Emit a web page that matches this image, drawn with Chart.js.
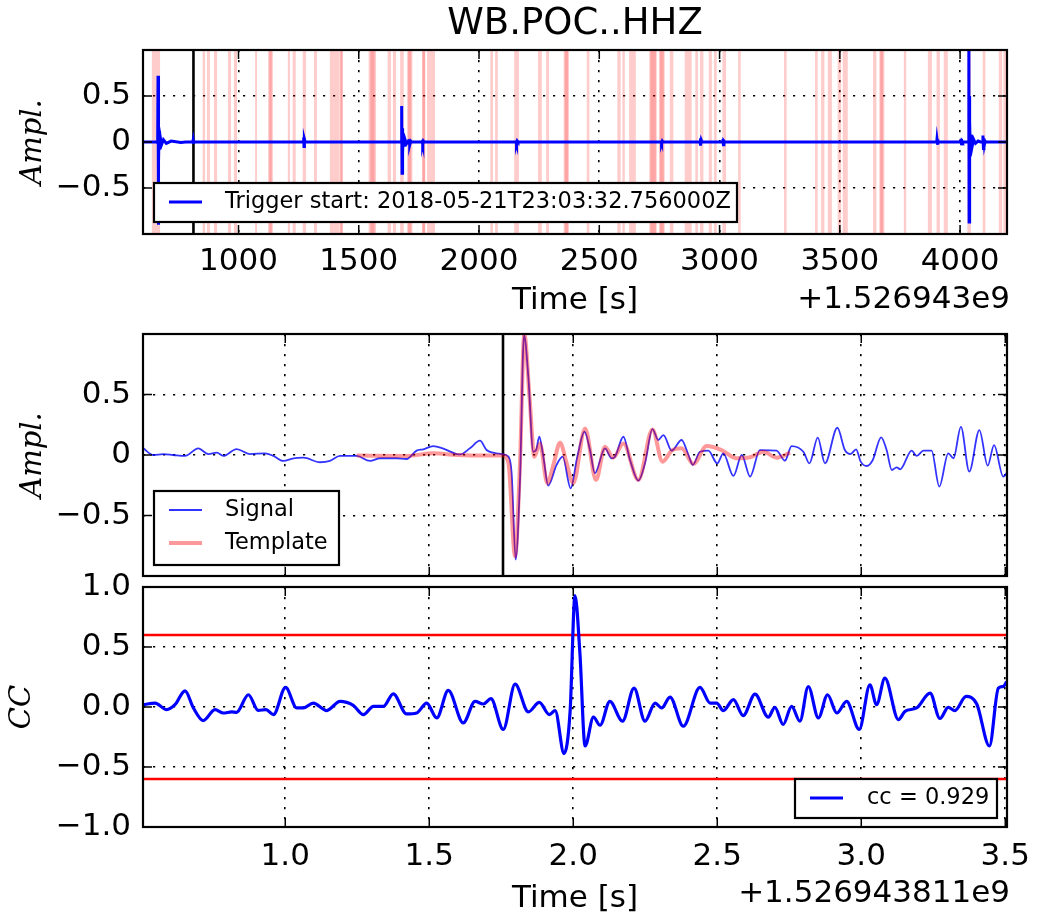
<!DOCTYPE html>
<html>
<head>
<meta charset="utf-8">
<title>WB.POC..HHZ</title>
<script src="https://cdn.jsdelivr.net/npm/chart.js@4.4.0/dist/chart.umd.min.js"></script>
<style>
  body { margin: 0; background: #fff; }
  .panel { position: absolute; left: 0; width: 1040px; }
</style>
</head>
<body>
<div class="panel" style="top:0;height:320px"><canvas id="traceChart"></canvas></div>
<div class="panel" style="top:320px;height:260px"><canvas id="matchChart"></canvas></div>
<div class="panel" style="top:560px;height:360px"><canvas id="ccChart"></canvas></div>
<script>
// ---- full record, seconds after 1.526943e9 ----
const traceRange = [603, 4195];
const traceTicks = [1000, 1500, 2000, 2500, 3000, 3500, 4000];
const triggerStart = 812.756;
const tracePoints = [
  [603, 0], [660, 0], [664, -0.01], [665.5, 0.72], [666.5, -0.9], [667.5, 0.3],
  [668.5, -0.22], [670, 0.12], [672, -0.08], [675, 0.05], [680, -0.03], [688, 0.025], [700, -0.015],
  [720, 0.01], [760, -0.005], [780, 0],
  [810, 0], [811.5, 0.02], [812.5, -0.02], [814, 0],
  [1269, 0], [1271, 0.05], [1272.5, -0.05], [1274, 0.03], [1277, 0],
  [1676, 0], [1678.5, 0.39], [1680, -0.34], [1681.5, 0.15], [1683, -0.12], [1685, 0.07],
  [1688, -0.05], [1692, 0.03], [1698, -0.02], [1706, 0.01], [1710, 0], [1711, 0.03], [1713, -0.03], [1716, 0.01], [1720, 0],
  [1764, 0], [1765, 0.025], [1767, -0.025], [1769, 0.01], [1772, 0],
  [2154, 0], [2155, 0.02], [2157, -0.02], [2159, 0.01], [2162, 0],
  [2757, 0], [2758, 0.015], [2760, -0.015], [2762, 0.01], [2765, 0],
  [2919, 0], [2920, 0.04], [2922, -0.04], [2924, 0.02], [2927, 0],
  [3013, 0], [3014, 0.03], [3016, -0.03], [3018, 0.01], [3021, 0],
  [3903, 0], [3904, 0.03], [3906, -0.03], [3908, 0.01], [3911, 0],
  [4003, 0], [4004, 0.035], [4006, -0.035], [4008, 0.01], [4011, 0],
  [4035, 0], [4036.5, 1.1], [4037.5, -0.87], [4038.5, 0.5], [4039.5, -0.4], [4041, 0.22],
  [4043, -0.15], [4046, 0.08], [4050, -0.05], [4056, 0.03], [4064, -0.015], [4075, 0.01], [4085, 0],
  [4093, 0], [4095, 0.07], [4097, -0.07], [4099, 0.04], [4101, -0.03], [4104, 0.01], [4108, 0], [4195, 0]
];
// trigger on / off windows
const triggerWindows = [
  [640, 674], [851, 861], [869, 881], [898, 911], [956, 969], [981, 994], [1069, 1077],
  [1123, 1143], [1128, 1138], [1205, 1214], [1225, 1238], [1267, 1281], [1314, 1326],
  [1380, 1421], [1422, 1434], [1424, 1432], [1541, 1572], [1548, 1566], [1620, 1634],
  [1642, 1655], [1672, 1687], [1701, 1723], [1705, 1718], [1763, 1777], [1765, 1775],
  [1784, 1817], [2047, 2058], [2067, 2078], [2146, 2166], [2245, 2261], [2279, 2291],
  [2352, 2374], [2356, 2370], [2448, 2459], [2575, 2589], [2596, 2606], [2624, 2652],
  [2708, 2739], [2712, 2735], [2748, 2772], [2752, 2768], [2793, 2808], [2855, 2884],
  [2899, 2910], [2919, 2933], [2955, 2968], [2977, 2988], [3012, 3027], [3077, 3088],
  [3268, 3279], [3397, 3408], [3422, 3436], [3450, 3467], [3491, 3505], [3512, 3533],
  [3638, 3652], [3664, 3685], [3668, 3680], [3766, 3776], [3866, 3883], [3902, 3916],
  [3932, 3949], [4030, 4045], [4094, 4105], [4161, 4175], [4180, 4191]
];

// ---- detection window, seconds after 1.526943811e9 ----
const windowRange = [0.506, 3.506];
const windowTicks = [1.0, 1.5, 2.0, 2.5, 3.0, 3.5];
const pickTime = 1.756;
const signalPoints = [
  [0.507, 0.055], [0.542, 0.0], [0.577, 0.008], [0.611, 0.0], [0.652, -0.008], [0.698, 0.055],
  [0.733, 0.008], [0.762, 0.019], [0.785, -0.008], [0.831, 0.049], [0.877, 0.008], [0.930, 0.014],
  [0.959, -0.008], [0.993, -0.049], [1.028, -0.027], [1.063, -0.022], [1.121, -0.060], [1.155, -0.049],
  [1.190, -0.008], [1.248, -0.008], [1.294, -0.049], [1.329, -0.027], [1.387, -0.027], [1.421, -0.033],
  [1.456, 0.036], [1.479, 0.047], [1.514, 0.074], [1.549, 0.052], [1.595, 0.008], [1.607, 0.005],
  [1.641, 0.055], [1.676, 0.118], [1.699, 0.041], [1.722, 0.019], [1.751, 0.008], [1.775, -0.014],
  [1.786, -0.151], [1.800, -0.865], [1.815, -0.206], [1.829, 0.99], [1.844, 0.645], [1.861, 0.027],
  [1.871, 0.041], [1.882, 0.151], [1.896, -0.014], [1.913, -0.253], [1.942, -0.082], [1.963, -0.014],
  [1.991, -0.275], [2.014, -0.014], [2.039, 0.192], [2.058, 0.041], [2.075, -0.151], [2.110, 0.055],
  [2.133, -0.027], [2.145, -0.014], [2.174, 0.151], [2.197, -0.041], [2.226, -0.211], [2.249, -0.069],
  [2.275, 0.214], [2.295, 0.124], [2.313, 0.165], [2.342, 0.036], [2.376, 0.124], [2.400, 0.0],
  [2.415, -0.082], [2.440, 0.027], [2.469, 0.036], [2.500, -0.069], [2.521, 0.014], [2.556, -0.173],
  [2.585, 0.0], [2.614, -0.178], [2.648, 0.041], [2.706, 0.036], [2.735, -0.047], [2.758, 0.074],
  [2.799, 0.027], [2.820, -0.069], [2.849, 0.143], [2.874, -0.069], [2.917, 0.225], [2.943, 0.041],
  [2.963, 0.008], [2.982, 0.047], [2.998, -0.055], [3.019, -0.091], [3.040, -0.041], [3.069, 0.146],
  [3.088, 0.041], [3.106, -0.124], [3.123, -0.102], [3.135, -0.118], [3.175, 0.036], [3.192, -0.008],
  [3.216, 0.036], [3.244, 0.036], [3.271, -0.261], [3.302, 0.014], [3.320, -0.027], [3.346, 0.233],
  [3.375, -0.137], [3.410, 0.206], [3.439, -0.088], [3.461, 0.082], [3.493, -0.178], [3.517, -0.096]
];
const templatePoints = [
  [1.248, -0.005], [1.421, -0.008], [1.514, 0.014], [1.595, 0.0], [1.711, -0.005], [1.757, -0.005],
  [1.775, -0.069], [1.798, -0.837], [1.815, -0.069], [1.830, 1.0], [1.848, 0.48], [1.865, -0.014],
  [1.884, 0.096], [1.910, -0.233], [1.931, -0.082], [1.954, 0.102], [1.977, -0.069], [2.000, -0.233],
  [2.041, 0.220], [2.079, -0.206], [2.110, 0.069], [2.139, -0.022], [2.174, 0.096], [2.226, -0.206],
  [2.275, 0.211], [2.310, -0.055], [2.342, 0.036], [2.376, 0.055], [2.417, -0.074], [2.463, 0.074],
  [2.515, 0.041], [2.567, -0.027], [2.614, -0.019], [2.660, 0.027], [2.706, -0.022], [2.753, 0.019]
];
const ccPoints = [
  [0.507, 0.019], [0.548, 0.033], [0.588, -0.022], [0.617, 0.019], [0.652, 0.135], [0.681, -0.008],
  [0.715, -0.113], [0.756, -0.022], [0.785, -0.050], [0.814, -0.041], [0.831, -0.044], [0.872, 0.102],
  [0.906, -0.028], [0.933, -0.022], [0.959, -0.063], [1.001, 0.163], [1.040, -0.008], [1.063, -0.008],
  [1.097, 0.033], [1.144, -0.030], [1.190, 0.047], [1.236, 0.014], [1.271, -0.063], [1.306, 0.006],
  [1.341, 0.006], [1.375, 0.110], [1.421, -0.058], [1.456, -0.050], [1.491, 0.033], [1.526, -0.091],
  [1.566, 0.138], [1.618, -0.132], [1.659, 0.047], [1.688, 0.025], [1.714, 0.069], [1.757, -0.187],
  [1.798, 0.190], [1.844, -0.041], [1.882, 0.039], [1.917, -0.063], [1.937, -0.030], [1.968, -0.388],
  [1.989, -0.036], [2.006, 0.929], [2.023, 0.45], [2.041, -0.325], [2.070, -0.085], [2.093, -0.152],
  [2.127, 0.047], [2.171, -0.118], [2.211, 0.157], [2.249, -0.118], [2.284, 0.033], [2.307, -0.008],
  [2.336, 0.083], [2.382, -0.160], [2.440, 0.163], [2.475, 0.033], [2.498, 0.033], [2.521, -0.030],
  [2.556, 0.061], [2.590, -0.072], [2.631, 0.107], [2.677, -0.085], [2.700, -0.003], [2.729, -0.146],
  [2.758, 0.006], [2.787, -0.118], [2.816, 0.171], [2.851, -0.091], [2.883, 0.102], [2.915, -0.050],
  [2.949, 0.047], [2.993, -0.187], [3.030, 0.185], [3.053, 0.019], [3.082, 0.240], [3.129, -0.105],
  [3.152, -0.036], [3.192, -0.008], [3.239, 0.116], [3.273, -0.096], [3.302, -0.003], [3.325, -0.030],
  [3.364, 0.088], [3.401, 0.025], [3.445, -0.325], [3.476, 0.157], [3.493, 0.171], [3.505, 0.212]
];
const ccThreshold = 0.6;
const amplTicks = [-0.5, 0, 0.5];
const ccTicks = [-1.0, -0.5, 0.0, 0.5, 1.0];

const TICK_FONT = { family: 'DejaVu Sans', size: 31 };
const LABEL_FONT = { family: 'DejaVu Sans', size: 31 };
const MATH_FONT = { family: 'DejaVu Serif', size: 29, style: 'italic' };
const LEGEND_FONT = '22.5px "DejaVu Sans"';

Chart.defaults.font.family = 'DejaVu Sans';
Chart.defaults.color = '#000';
Chart.defaults.animation = false;

const xy = pts => pts.map(p => ({ x: p[0], y: p[1] }));
const minus = v => String(v).replace('-', '\u2212');
const noPadding = s => { s.paddingLeft = s.paddingRight = s.paddingTop = s.paddingBottom = 0; };

// spans, inner ticks, frame, legend box and axis offset text
const axesDecor = {
  id: 'axesDecor',
  beforeDatasetsDraw(chart, args, opts) {
    if (!opts.spans) return;
    const { ctx, chartArea: a, scales: { x } } = chart;
    ctx.save();
    ctx.fillStyle = 'rgba(255,0,0,0.2)';
    opts.spans.forEach(([on, off]) => {
      const x1 = x.getPixelForValue(on), x2 = x.getPixelForValue(off);
      ctx.fillRect(x1, a.top, Math.max(x2 - x1, 1.5), a.bottom - a.top);
    });
    ctx.restore();
  },
  afterDatasetsDraw(chart, args, opts) {
    const { ctx, chartArea: a, scales: { x, y } } = chart;
    ctx.save();
    ctx.strokeStyle = '#000';
    ctx.lineWidth = 1.5;
    ctx.beginPath();
    x.ticks.forEach(t => {
      const px = x.getPixelForValue(t.value);
      ctx.moveTo(px, a.bottom); ctx.lineTo(px, a.bottom - 9);
      ctx.moveTo(px, a.top); ctx.lineTo(px, a.top + 9);
    });
    y.ticks.forEach(t => {
      const py = y.getPixelForValue(t.value);
      ctx.moveTo(a.left, py); ctx.lineTo(a.left + 9, py);
      ctx.moveTo(a.right, py); ctx.lineTo(a.right - 9, py);
    });
    ctx.stroke();
    ctx.lineWidth = 2.2;
    ctx.strokeRect(a.left, a.top, a.right - a.left, a.bottom - a.top);

    const L = opts.legend;
    if (L) {
      const bx = L.right != null ? a.right - L.right - L.w : a.left + L.left;
      const by = a.bottom - L.bottom - L.h;
      ctx.fillStyle = '#fff';
      ctx.fillRect(bx, by, L.w, L.h);
      ctx.lineWidth = 2.2;
      ctx.strokeRect(bx, by, L.w, L.h);
      ctx.font = LEGEND_FONT;
      ctx.textBaseline = 'middle';
      ctx.textAlign = 'left';
      L.rows.forEach((idx, i) => {
        const ds = chart.data.datasets[idx];
        const ry = by + L.rowTop + i * L.rowGap;
        ctx.strokeStyle = ds.borderColor;
        ctx.lineWidth = ds.borderWidth;
        ctx.beginPath();
        ctx.moveTo(bx + 15, ry); ctx.lineTo(bx + 48, ry);
        ctx.stroke();
        ctx.fillStyle = '#000';
        ctx.fillText(ds.label, bx + L.textX, ry);
      });
    }
    if (opts.offsetText) {
      ctx.font = `${LABEL_FONT.size}px "DejaVu Sans"`;
      ctx.fillStyle = '#000';
      ctx.textAlign = 'right';
      ctx.textBaseline = 'middle';
      ctx.fillText(opts.offsetText, a.right + 3, opts.offsetY);
    }
    ctx.restore();
  }
};

function xScale(range, ticks, opts) {
  return {
    type: 'linear', min: range[0], max: range[1],
    afterBuildTicks: s => { s.ticks = ticks.map(v => ({ value: v })); },
    afterFit: s => { s.height = opts.height; noPadding(s); },
    grid: { color: '#000', lineWidth: 1.6, drawTicks: false },
    border: { display: false, dash: [2.2, 7.8] },
    ticks: {
      display: opts.labels, font: TICK_FONT, padding: opts.pad || 0, maxRotation: 0,
      callback: opts.fmt
    },
    title: opts.title ? { display: true, text: 'Time [s]', font: LABEL_FONT, padding: { top: 0, bottom: opts.titlePad } } : { display: false }
  };
}

function yScale(ticks, fmt, titleText, titlePad) {
  return {
    type: 'linear', min: -1, max: 1,
    afterBuildTicks: s => { s.ticks = ticks.map(v => ({ value: v })); },
    afterFit: s => { s.width = 143; noPadding(s); },
    grid: { color: '#000', lineWidth: 1.6, drawTicks: false },
    border: { display: false, dash: [2.2, 7.8] },
    ticks: { font: TICK_FONT, padding: 12, callback: fmt },
    title: { display: true, text: titleText, font: MATH_FONT, padding: { top: titlePad, bottom: 0 } }
  };
}

const lineBase = { pointRadius: 0, fill: false, borderCapStyle: 'butt' };

// top panel: continuous record with trigger windows
new Chart(document.getElementById('traceChart'), {
  type: 'line',
  data: {
    datasets: [
      { ...lineBase, label: 'Trigger start: 2018-05-21T23:03:32.756000Z', data: xy(tracePoints),
        borderColor: '#0000ff', borderWidth: 3, tension: 0 },
      { ...lineBase, label: 'start', data: xy([[triggerStart, -1], [triggerStart, 1]]),
        borderColor: '#000', borderWidth: 2.6 }
    ]
  },
  options: {
    responsive: true, maintainAspectRatio: false,
    layout: { padding: { left: 0, right: 33, top: 0, bottom: 0 } },
    scales: {
      x: xScale(traceRange, traceTicks, { height: 86, labels: true, pad: 9, title: true, titlePad: 0,
        fmt: v => String(v) }),
      y: yScale(amplTicks, v => minus(v), 'Ampl.', 16)
    },
    plugins: {
      legend: { display: false }, tooltip: { enabled: false },
      title: { display: true, fullSize: false, text: 'WB.POC..HHZ',
        font: { family: 'DejaVu Sans', size: 37, weight: 'normal', lineHeight: 1 },
        padding: { top: 6, bottom: 7 }, color: '#000' },
      axesDecor: {
        spans: triggerWindows,
        legend: { left: 11, bottom: 12, w: 583, h: 39, rowTop: 19, rowGap: 0, textX: 71, rows: [0] },
        offsetText: '+1.526943e9', offsetY: 300
      }
    }
  },
  plugins: [axesDecor]
});

// middle panel: signal against template
new Chart(document.getElementById('matchChart'), {
  type: 'line',
  data: {
    datasets: [
      { ...lineBase, label: 'Template', data: xy(templatePoints), order: 0,
        borderColor: 'rgba(255,0,0,0.4)', borderWidth: 4, cubicInterpolationMode: 'monotone' },
      { ...lineBase, label: 'Signal', data: xy(signalPoints), order: 1,
        borderColor: 'rgba(0,0,255,0.8)', borderWidth: 1.8, cubicInterpolationMode: 'monotone' },
      { ...lineBase, label: 'pick', data: xy([[pickTime, -1], [pickTime, 1]]), order: 2,
        borderColor: '#000', borderWidth: 2.6 }
    ]
  },
  options: {
    responsive: true, maintainAspectRatio: false,
    layout: { padding: { left: 0, right: 33, top: 14, bottom: 0 } },
    scales: {
      x: xScale(windowRange, windowTicks, { height: 4, labels: false, title: false }),
      y: yScale(amplTicks, v => minus(v), 'Ampl.', 16)
    },
    plugins: {
      legend: { display: false }, tooltip: { enabled: false },
      axesDecor: {
        legend: { left: 11, bottom: 11, w: 185, h: 74, rowTop: 19, rowGap: 33, textX: 71, rows: [1, 0] }
      }
    }
  },
  plugins: [axesDecor]
});

// bottom panel: correlation coefficient with detection thresholds
const ccValues = ccPoints.map(p => p[1]);
new Chart(document.getElementById('ccChart'), {
  type: 'line',
  data: {
    datasets: [
      { ...lineBase, label: 'cc = ' + Math.max(...ccValues).toFixed(3), data: xy(ccPoints),
        borderColor: '#0000ff', borderWidth: 3.2, cubicInterpolationMode: 'monotone' },
      { ...lineBase, label: 'upper', data: xy([[windowRange[0], ccThreshold], [windowRange[1], ccThreshold]]),
        borderColor: '#ff0000', borderWidth: 2.6 },
      { ...lineBase, label: 'lower', data: xy([[windowRange[0], -ccThreshold], [windowRange[1], -ccThreshold]]),
        borderColor: '#ff0000', borderWidth: 2.6 }
    ]
  },
  options: {
    responsive: true, maintainAspectRatio: false,
    layout: { padding: { left: 0, right: 33, top: 27, bottom: 0 } },
    scales: {
      x: xScale(windowRange, windowTicks, { height: 93, labels: true, pad: 11, title: true, titlePad: 2,
        fmt: v => v.toFixed(1) }),
      y: yScale(ccTicks, v => minus(v.toFixed(1)), 'CC', 5)
    },
    plugins: {
      legend: { display: false }, tooltip: { enabled: false },
      axesDecor: {
        legend: { right: 10, bottom: 9, w: 202, h: 39, rowTop: 19, rowGap: 0, textX: 72, rows: [0] },
        offsetText: '+1.526943811e9', offsetY: 334
      }
    }
  },
  plugins: [axesDecor]
});
</script>
</body>
</html>
